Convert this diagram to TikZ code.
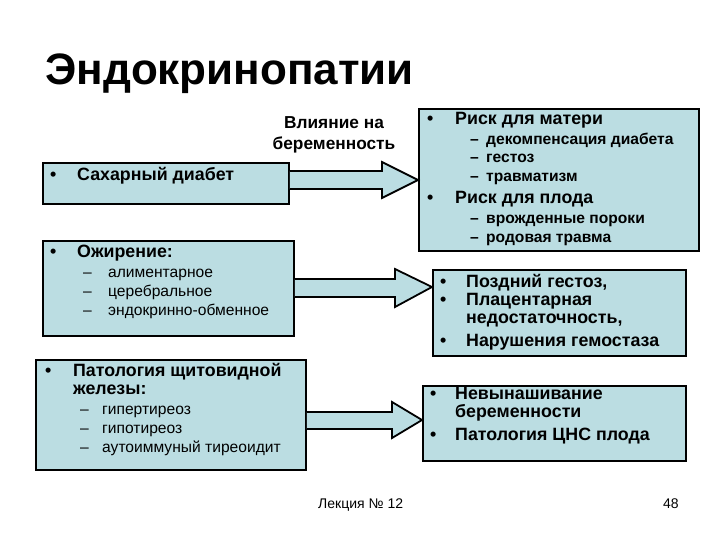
\documentclass[tikz,border=0pt]{standalone}
\usepackage{fontspec}
\setmainfont{Liberation Sans}
\definecolor{boxfill}{RGB}{187,221,226}
\begin{document}
\begin{tikzpicture}[x=1pt,y=-1pt,
  box/.style={draw=black, line width=1.8pt, fill=boxfill, anchor=north west, inner sep=0pt},
  bigarrow/.style={draw=black, line width=1.8pt, fill=boxfill, line join=miter},
  head/.style={anchor=base west, inner sep=0pt, font=\fontsize{17.8}{20}\selectfont\bfseries},
  rsub/.style={anchor=base west, inner sep=0pt, font=\fontsize{15.6}{18}\selectfont\bfseries},
  lsub/.style={anchor=base west, inner sep=0pt, font=\fontsize{15.6}{18}\selectfont},
  foot/.style={anchor=base west, inner sep=0pt, font=\fontsize{14}{16}\selectfont}]
\useasboundingbox (0,0) rectangle (720,540);
\fill[white] (0,0) rectangle (720,540);

% title
\node[anchor=base west, inner sep=0pt, font=\fontsize{44}{48}\selectfont\bfseries] (title) at (45,85) {Эндокринопатии};

% boxes
\node[box, minimum width=246pt, minimum height=41pt] (l1) at (42,162) {};
\node[box, minimum width=251pt, minimum height=95pt] (l2) at (42,240) {};
\node[box, minimum width=270pt, minimum height=110pt] (l3) at (35,359) {};
\node[box, minimum width=280pt, minimum height=142pt] (r1) at (418,108) {};
\node[box, minimum width=253pt, minimum height=86pt] (r2) at (432,269) {};
\node[box, minimum width=263pt, minimum height=75pt] (r3) at (422,385) {};

% arrows
\draw[bigarrow] (l1.east |- 0,171) -- (382,171) -- (382,162) -- (r1.west |- 0,180) -- (382,198) -- (382,189) -- (l1.east |- 0,189);
\draw[bigarrow] (l2.east |- 0,279) -- (395,279) -- (395,269) -- (r2.west |- 0,287) -- (395,307) -- (395,297) -- (l2.east |- 0,297);
\draw[bigarrow] (l3.east |- 0,412) -- (392,412) -- (392,402) -- (r3.west |- 0,420) -- (392,438) -- (392,429) -- (l3.east |- 0,429);

% label above arrow 1
\node[anchor=base, inner sep=0pt, font=\fontsize{17.3}{20}\selectfont\bfseries] (inf1) at (334,129) {Влияние на};
\node[anchor=base, inner sep=0pt, font=\fontsize{17.3}{20}\selectfont\bfseries] (inf2) at (334,150) {беременность};

% left box 1
\node[head] (b1) at (50,181) {•};
\node[head] (t1) at (77,181) {Сахарный диабет};

% left box 2
\node[head] (b2) at (50,257) {•};
\node[head] (t2) at (77,257) {Ожирение:};
\node[lsub] (d21) at (83,277) {–};
\node[lsub] (s21) at (108,277) {алиментарное};
\node[lsub] (d22) at (83,296) {–};
\node[lsub] (s22) at (108,296) {церебральное};
\node[lsub] (d23) at (83,315) {–};
\node[lsub] (s23) at (108,315) {эндокринно-обменное};

% left box 3
\node[head] (b3) at (45,376) {•};
\node[head] (t3a) at (73,376) {Патология щитовидной};
\node[head] (t3b) at (73,394) {железы:};
\node[lsub] (d31) at (80,414) {–};
\node[lsub] (s31) at (102,414) {гипертиреоз};
\node[lsub] (d32) at (80,433) {–};
\node[lsub] (s32) at (102,433) {гипотиреоз};
\node[lsub] (d33) at (80,452) {–};
\node[lsub] (s33) at (102,452) {аутоиммуный тиреоидит};

% right box 1
\node[head] (rb1) at (427,125) {•};
\node[head] (rt1) at (455,125) {Риск для матери};
\node[rsub] (rd11) at (470,145) {–};
\node[rsub] (rs11) at (486,145) {декомпенсация диабета};
\node[rsub] (rd12) at (470,163) {–};
\node[rsub] (rs12) at (486,163) {гестоз};
\node[rsub] (rd13) at (470,182) {–};
\node[rsub] (rs13) at (486,182) {травматизм};
\node[head] (rb2) at (427,204) {•};
\node[head] (rt2) at (455,204) {Риск для плода};
\node[rsub] (rd21) at (470,223) {–};
\node[rsub] (rs21) at (486,223) {врожденные пороки};
\node[rsub] (rd22) at (470,243) {–};
\node[rsub] (rs22) at (486,243) {родовая травма};

% right box 2
\node[head] (qb1) at (440,287) {•};
\node[head] (qt1) at (466,287) {Поздний гестоз,};
\node[head] (qb2) at (440,305) {•};
\node[head] (qt2) at (466,305) {Плацентарная};
\node[head] (qt3) at (466,323) {недостаточность,};
\node[head] (qb3) at (440,346) {•};
\node[head] (qt4) at (466,346) {Нарушения гемостаза};

% right box 3
\node[head] (pb1) at (430,399) {•};
\node[head] (pt1) at (455,399) {Невынашивание};
\node[head] (pt2) at (455,417) {беременности};
\node[head] (pb2) at (430,440) {•};
\node[head] (pt3) at (455,440) {Патология ЦНС плода};

% footer
\node[foot] (lec) at (318,508) {Лекция № 12};
\node[foot] (num) at (663,508) {48};
\end{tikzpicture}
\end{document}
